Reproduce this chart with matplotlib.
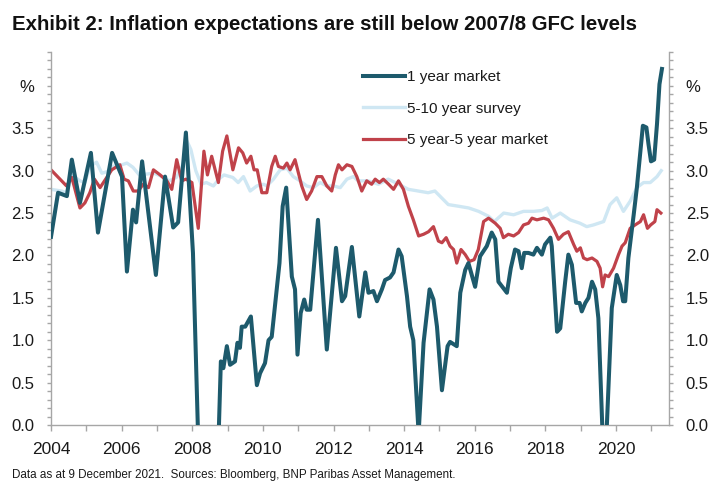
import matplotlib
matplotlib.use("Agg")
import matplotlib.pyplot as plt
from matplotlib.ticker import MultipleLocator, FuncFormatter

FONT = ['Liberation Sans', 'DejaVu Sans']
plt.rcParams['font.family'] = FONT

title = "Exhibit 2: Inflation expectations are still below 2007/8 GFC levels"
footnote = "Data as at 9 December 2021.  Sources: Bloomberg, BNP Paribas Asset Management."
series_names = ["1 year market", "5-10 year survey", "5 year-5 year market"]

# 1 year market (values below 0 are clipped by the axis, as in the original)
one_year_t = [2004.00, 2004.20, 2004.45, 2004.59, 2004.82, 2005.13, 2005.33, 2005.73, 2006.01, 2006.15,
              2006.32, 2006.41, 2006.58, 2006.97, 2007.23, 2007.46, 2007.60, 2007.82, 2008.02, 2008.19,
              2008.72, 2008.81, 2008.88, 2008.98, 2009.07, 2009.21, 2009.28, 2009.35, 2009.40, 2009.50,
              2009.66, 2009.83, 2009.92, 2010.06, 2010.16, 2010.25, 2010.35, 2010.47, 2010.56, 2010.66,
              2010.82, 2010.91, 2010.98, 2011.07, 2011.17, 2011.24, 2011.34, 2011.56, 2011.81, 2012.07,
              2012.24, 2012.33, 2012.52, 2012.73, 2012.90, 2012.99, 2013.13, 2013.23, 2013.37, 2013.46,
              2013.60, 2013.70, 2013.84, 2013.93, 2014.08, 2014.17, 2014.26, 2014.41, 2014.55, 2014.72,
              2014.83, 2014.93, 2015.07, 2015.23, 2015.30, 2015.49, 2015.59, 2015.73, 2015.82, 2016.01,
              2016.15, 2016.34, 2016.48, 2016.58, 2016.67, 2016.80, 2016.91, 2017.02, 2017.14, 2017.24,
              2017.33, 2017.40, 2017.52, 2017.66, 2017.76, 2017.90, 2017.99, 2018.14, 2018.18, 2018.33,
              2018.42, 2018.56, 2018.65, 2018.75, 2018.87, 2018.97, 2019.03, 2019.13, 2019.22, 2019.32,
              2019.41, 2019.50, 2019.67, 2019.88, 2020.02, 2020.12, 2020.20, 2020.26, 2020.35, 2020.50,
              2020.59, 2020.69, 2020.76, 2020.86, 2020.92, 2020.99, 2021.08, 2021.16, 2021.23, 2021.30]
one_year_v = [2.22, 2.74, 2.70, 3.13, 2.62, 3.21, 2.27, 3.21, 2.93, 1.81,
              2.54, 2.39, 3.11, 1.77, 2.93, 2.33, 2.39, 3.45, 2.03, -0.50,
              -0.50, 0.75, 0.67, 0.93, 0.71, 0.75, 0.97, 0.91, 1.16, 1.16,
              1.28, 0.47, 0.61, 0.73, 1.00, 1.04, 1.44, 1.91, 2.58, 2.80,
              1.75, 1.60, 0.83, 1.32, 1.48, 1.36, 1.36, 2.42, 0.89, 2.09,
              1.46, 1.52, 2.10, 1.28, 1.80, 1.56, 1.58, 1.46, 1.60, 1.71,
              1.74, 1.80, 2.07, 1.99, 1.52, 1.16, 1.00, -0.10, 0.97, 1.60,
              1.48, 1.16, 0.41, 0.93, 0.98, 0.93, 1.56, 1.83, 1.91, 1.63,
              1.99, 2.11, 2.27, 2.19, 1.69, 1.62, 1.56, 1.85, 2.07, 2.05,
              1.85, 2.03, 2.03, 2.01, 2.09, 2.01, 2.13, 2.21, 2.11, 1.10,
              1.14, 1.69, 2.01, 1.89, 1.44, 1.44, 1.34, 1.44, 1.50, 1.69,
              1.60, 1.26, -0.70, 1.38, 1.77, 1.65, 1.46, 1.46, 1.97, 2.48,
              2.80, 3.23, 3.53, 3.51, 3.31, 3.11, 3.13, 3.55, 4.02, 4.20]

# 5-10 year survey
survey_t = [2004.00, 2004.30, 2004.44, 2004.59, 2004.82, 2004.96, 2005.10, 2005.29, 2005.44, 2005.60,
            2005.73, 2006.01, 2006.15, 2006.32, 2006.50, 2006.70, 2006.92, 2007.15, 2007.35, 2007.55,
            2007.75, 2007.85, 2007.96, 2008.10, 2008.25, 2008.40, 2008.60, 2008.75, 2008.90, 2009.15,
            2009.30, 2009.45, 2009.64, 2009.83, 2010.02, 2010.11, 2010.30, 2010.49, 2010.68, 2010.86,
            2011.05, 2011.24, 2011.43, 2011.62, 2011.81, 2012.00, 2012.19, 2012.38, 2012.56, 2012.70,
            2012.98, 2013.27, 2013.55, 2013.84, 2014.12, 2014.40, 2014.68, 2014.87, 2015.06, 2015.25,
            2015.55, 2015.83, 2016.11, 2016.40, 2016.55, 2016.82, 2017.10, 2017.38, 2017.66, 2017.90,
            2018.05, 2018.19, 2018.42, 2018.70, 2018.98, 2019.17, 2019.36, 2019.65, 2019.83, 2020.02,
            2020.21, 2020.40, 2020.59, 2020.78, 2020.97, 2021.16, 2021.28]
survey_v = [2.78, 2.76, 2.74, 2.95, 2.88, 2.86, 3.05, 3.10, 2.97, 2.99,
            3.05, 3.07, 3.09, 3.04, 2.95, 2.96, 2.97, 2.93, 2.88, 2.92,
            3.08, 3.35, 3.25, 3.00, 2.84, 2.86, 2.82, 2.90, 2.95, 2.92,
            2.86, 2.93, 2.76, 2.82, 2.84, 2.82, 2.90, 3.01, 3.03, 2.93,
            2.88, 2.82, 2.80, 2.86, 2.82, 2.82, 2.80, 2.90, 2.93, 2.88,
            2.88, 2.84, 2.90, 2.84, 2.78, 2.76, 2.74, 2.76, 2.68, 2.60,
            2.58, 2.56, 2.52, 2.46, 2.40, 2.50, 2.48, 2.52, 2.52, 2.53,
            2.56, 2.44, 2.50, 2.42, 2.38, 2.34, 2.36, 2.40, 2.60, 2.68,
            2.52, 2.64, 2.80, 2.86, 2.86, 2.93, 3.00]

# 5 year-5 year market
fwd_t = [2004.00, 2004.44, 2004.59, 2004.82, 2004.96, 2005.10, 2005.23, 2005.39, 2005.58, 2005.72,
         2005.95, 2006.07, 2006.19, 2006.33, 2006.47, 2006.61, 2006.76, 2006.90, 2007.09, 2007.28,
         2007.42, 2007.56, 2007.70, 2007.82, 2007.99, 2008.17, 2008.33, 2008.43, 2008.55, 2008.74,
         2008.86, 2008.98, 2009.15, 2009.31, 2009.43, 2009.54, 2009.66, 2009.75, 2009.84, 2009.97,
         2010.11, 2010.25, 2010.35, 2010.44, 2010.58, 2010.68, 2010.77, 2010.91, 2011.10, 2011.24,
         2011.38, 2011.53, 2011.67, 2011.81, 2011.95, 2012.05, 2012.14, 2012.24, 2012.38, 2012.52,
         2012.66, 2012.80, 2012.94, 2013.08, 2013.18, 2013.30, 2013.41, 2013.56, 2013.70, 2013.84,
         2013.98, 2014.12, 2014.26, 2014.41, 2014.55, 2014.69, 2014.83, 2014.97, 2015.07, 2015.19,
         2015.30, 2015.40, 2015.49, 2015.61, 2015.73, 2015.85, 2015.98, 2016.10, 2016.25, 2016.39,
         2016.58, 2016.72, 2016.81, 2016.95, 2017.10, 2017.24, 2017.38, 2017.52, 2017.62, 2017.76,
         2017.95, 2018.09, 2018.23, 2018.37, 2018.51, 2018.65, 2018.80, 2018.89, 2018.99, 2019.08,
         2019.18, 2019.32, 2019.46, 2019.55, 2019.62, 2019.69, 2019.79, 2019.93, 2020.07, 2020.17,
         2020.26, 2020.40, 2020.54, 2020.69, 2020.78, 2020.89, 2020.98, 2021.10, 2021.16, 2021.27]
fwd_v = [3.01, 2.82, 2.92, 2.56, 2.62, 2.74, 2.90, 2.80, 2.92, 3.01,
         3.07, 2.90, 2.88, 2.76, 2.76, 2.84, 2.80, 3.01, 2.95, 2.88,
         2.78, 3.13, 2.88, 2.90, 2.86, 2.32, 3.23, 2.95, 3.17, 2.86,
         3.23, 3.41, 3.01, 3.27, 3.21, 3.09, 3.17, 3.01, 3.01, 2.74,
         2.74, 3.05, 3.17, 3.05, 3.03, 3.09, 3.01, 3.13, 2.82, 2.66,
         2.76, 2.93, 2.93, 2.82, 2.76, 2.95, 3.07, 3.01, 3.07, 3.05,
         2.93, 2.76, 2.88, 2.84, 2.90, 2.86, 2.90, 2.84, 2.78, 2.88,
         2.78, 2.58, 2.42, 2.23, 2.25, 2.28, 2.34, 2.17, 2.15, 2.21,
         2.11, 2.07, 1.91, 2.07, 2.01, 1.93, 1.95, 2.07, 2.40, 2.44,
         2.38, 2.32, 2.21, 2.25, 2.23, 2.27, 2.36, 2.38, 2.44, 2.42,
         2.44, 2.42, 2.32, 2.19, 2.25, 2.28, 2.13, 2.05, 2.09, 1.97,
         1.95, 1.97, 1.93, 1.85, 1.63, 1.77, 1.75, 1.85, 2.01, 2.11,
         2.15, 2.32, 2.36, 2.40, 2.48, 2.32, 2.36, 2.40, 2.54, 2.50]

x_major_labels = [2004, 2006, 2008, 2010, 2012, 2014, 2016, 2018, 2020]

TEAL = '#1d5a6c'
LIGHT = '#cfe7f3'
RED = '#c0424a'
SPINE = '#a6a6a6'
TXT = '#1a1a1a'

fig = plt.figure(figsize=(7.25, 5.01), dpi=100)
ax = fig.add_axes([51/725, 1-425/501, (669-51)/725, (425-52)/501])

l1, = ax.plot(one_year_t, one_year_v, color=TEAL, lw=2.9, solid_joinstyle='round', zorder=3)
l2, = ax.plot(survey_t, survey_v, color=LIGHT, lw=2.4, solid_joinstyle='round', zorder=1)
l3, = ax.plot(fwd_t, fwd_v, color=RED, lw=2.3, solid_joinstyle='round', zorder=2)

ax.set_xlim(2004, 2021.5)
ax.set_ylim(0, 4.4)

ax.spines['top'].set_visible(False)
for s in ['left', 'right', 'bottom']:
    ax.spines[s].set_color(SPINE)
    ax.spines[s].set_linewidth(1.0)

ax.xaxis.set_major_locator(MultipleLocator(1))
ax.xaxis.set_major_formatter(FuncFormatter(
    lambda v, p: str(int(round(v))) if int(round(v)) in x_major_labels else ''))
ax.yaxis.set_major_locator(MultipleLocator(0.5))
ax.yaxis.set_minor_locator(MultipleLocator(0.1))

def yfmt(v, p):
    if abs(v - 4.0) < 1e-6:
        return '%'
    if v > 4.0:
        return ''
    return f'{v:.1f}'
ax.yaxis.set_major_formatter(FuncFormatter(yfmt))

ax.tick_params(axis='x', which='major', direction='out', length=4, width=1, color=SPINE,
               labelsize=12.5, pad=8, labelcolor=TXT)
ax.tick_params(axis='y', which='both', direction='out', length=3, width=1, color=SPINE,
               left=True, right=True, labelleft=True, labelright=True)
ax.tick_params(axis='y', which='major', labelsize=12, pad=9, labelcolor=TXT)

leg = ax.legend([l1, l2, l3], series_names, loc='upper left',
                bbox_to_anchor=(363/725, 1-70/501), bbox_transform=fig.transFigure,
                frameon=False, fontsize=11, handlelength=2.75, handletextpad=0.15,
                labelspacing=1.15, borderaxespad=0, borderpad=0)
for t in leg.get_texts():
    t.set_color(TXT)

fig.text(12/725, 1-25/501, title, fontsize=14.7, fontweight='bold', ha='left', va='center', color='#111111')
fig.text(12/725, 1-475/501, footnote, fontsize=8.4, ha='left', va='center', color=TXT)

fig.savefig('out.png', dpi=100)
